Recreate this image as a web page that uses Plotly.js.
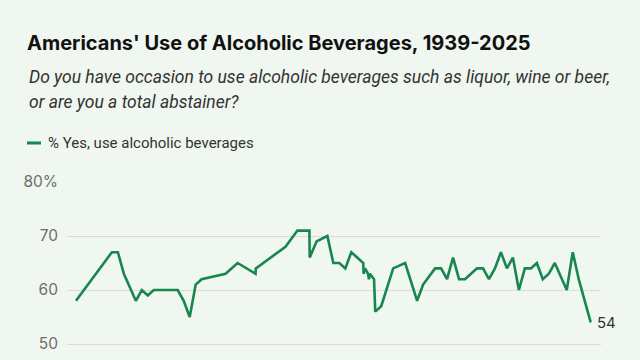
<!DOCTYPE html>
<html>
<head>
<meta charset="utf-8">
<script src="https://cdn.plot.ly/plotly-3.0.1.min.js"></script>
<style>
  html, body { margin: 0; padding: 0; background: #f0f6f0; }
  #chart { width: 640px; height: 360px; }
</style>
</head>
<body>
<div id="chart"></div>
<script>
// Survey dates (decimal years) and % saying yes, they use alcoholic beverages
const years = [
  1939, 1945, 1946, 1947, 1949, 1950, 1951, 1952, 1956, 1957, 1958, 1959, 1960,
  1964, 1966, 1969, 1969.05, 1974, 1976, 1978, 1978.05, 1979.2, 1981, 1982, 1983,
  1984, 1985, 1987, 1987.05, 1987.3, 1987.8, 1987.95, 1988.1, 1988.8, 1989, 1990,
  1992, 1994, 1996, 1997, 1999, 2000, 2001, 2002, 2003, 2004, 2005, 2006, 2007,
  2008, 2009, 2010, 2011, 2012, 2013, 2014, 2015, 2016, 2017, 2018, 2019, 2021,
  2022, 2023, 2024, 2025
];
const pctYes = [
  58, 67, 67, 63, 58, 60, 59, 60, 60, 58, 55, 61, 62,
  63, 65, 63, 64, 68, 71, 71, 66, 69, 70, 65, 65,
  64, 67, 65, 63, 64, 63, 62, 63, 62, 56, 57,
  64, 65, 58, 61, 64, 64, 62, 66, 62, 62, 63, 64, 64,
  62, 64, 67, 64, 66, 60, 64, 64, 65, 62, 63, 65, 60,
  67, 62, 58, 54
];
const yTickVals = [50, 60, 70, 80];
const yTickText = ['50', '60', '70', '80%'];

const titleText = "Americans' Use of Alcoholic Beverages, 1939-2025";
const subtitle1 = "Do you have occasion to use alcoholic beverages such as liquor, wine or beer,";
const subtitle2 = "or are you a total abstainer?";
const seriesName = "% Yes, use alcoholic beverages";

const green = '#17864f';
const FONT = 'Inter, "Noto Sans", sans-serif';
const FONT2 = 'Roboto, Inter, sans-serif';

// pixel helpers for paper coordinates (plot area: left 67, width 534, top 181, height 179)
const L = 67, W = 534, T = 181, H = 179;
const px = x => (x - L) / W;
const py = y => (T + H - y) / H;

const lastX = years[years.length - 1];
const lastY = pctYes[pctYes.length - 1];

const trace = {
  x: years,
  y: pctYes,
  type: 'scatter',
  mode: 'lines',
  name: seriesName,
  line: { color: green, width: 2.6 },
  hoverinfo: 'x+y',
  showlegend: false
};

const layout = {
  width: 640,
  height: 360,
  paper_bgcolor: '#f0f6f0',
  plot_bgcolor: '#f0f6f0',
  margin: { l: L, r: 640 - L - W, t: T, b: 0, pad: 0 },
  font: { family: FONT, color: '#333' },
  title: {
    text: '<b>' + titleText + '</b>',
    font: { family: FONT, size: 20, color: '#111' },
    xref: 'container', yref: 'container',
    x: 27 / 640, xanchor: 'left',
    y: 1 - 43 / 360, yanchor: 'middle'
  },
  xaxis: {
    range: [1937.5, 2026.72],
    showgrid: false,
    zeroline: false,
    showline: false,
    showticklabels: false,
    ticks: ''
  },
  yaxis: {
    range: [80 + 1 / 5.4 - 179 / 5.4, 80 + 1 / 5.4],
    tickvals: yTickVals,
    ticktext: yTickText,
    showgrid: true,
    gridcolor: '#d8ddd8',
    gridwidth: 1,
    zeroline: false,
    showline: false,
    ticks: '',
    ticklabelstandoff: 8,
    tickfont: { family: FONT, size: 15.5, color: '#6e6e6e' }
  },
  annotations: [
    {
      text: '<i>' + subtitle1 + '</i>',
      xref: 'paper', yref: 'paper', x: px(27), y: py(77),
      xanchor: 'left', yanchor: 'middle', showarrow: false,
      font: { family: FONT2, size: 17.5, color: '#333' }
    },
    {
      text: '<i>' + subtitle2 + '</i>',
      xref: 'paper', yref: 'paper', x: px(27), y: py(102),
      xanchor: 'left', yanchor: 'middle', showarrow: false,
      font: { family: FONT2, size: 17.5, color: '#333' }
    },
    {
      text: seriesName,
      xref: 'paper', yref: 'paper', x: px(46), y: py(143),
      xanchor: 'left', yanchor: 'middle', showarrow: false,
      font: { family: FONT2, size: 15, color: '#333' }
    },
    {
      text: String(lastY),
      x: lastX, y: lastY, xref: 'x', yref: 'y',
      xanchor: 'left', yanchor: 'middle', xshift: 4, showarrow: false,
      font: { family: FONT, size: 15, color: '#333' }
    }
  ],
  shapes: [
    {
      type: 'line', xref: 'paper', yref: 'paper',
      x0: px(27), x1: px(41), y0: py(143), y1: py(143),
      line: { color: green, width: 3 }
    }
  ]
};

Plotly.newPlot('chart', [trace], layout, { displayModeBar: false, staticPlot: true });
</script>
</body>
</html>
